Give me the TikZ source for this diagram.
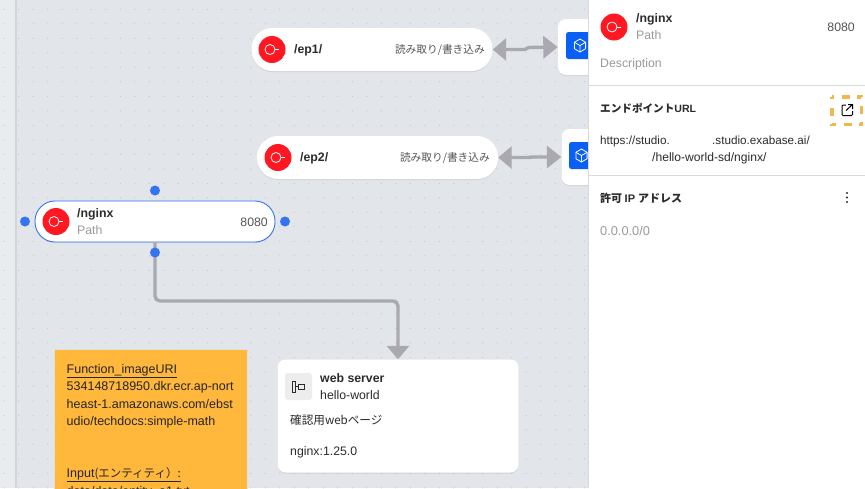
\documentclass[tikz,border=0pt]{standalone}
\usepackage{fontspec}
\setmainfont{Liberation Sans}
\newfontfamily\jp{Noto Sans CJK JP}
\usetikzlibrary{arrows.meta,shadows}
\definecolor{canvasbg}{HTML}{E2E5E9}
\definecolor{stripbg}{HTML}{E9ECEE}
\definecolor{stripline}{HTML}{D2D6DA}
\definecolor{griddot}{HTML}{B4B8BD}
\definecolor{epred}{HTML}{FF1721}
\definecolor{handleblue}{HTML}{3574F0}
\definecolor{cubeblue}{HTML}{0A5FF5}
\definecolor{flowgray}{HTML}{A9A9AF}
\definecolor{notebg}{HTML}{FFB73C}
\definecolor{dashorange}{HTML}{F1B74F}
\definecolor{inkdark}{HTML}{2B2B2B}
\definecolor{inkmid}{HTML}{555555}
\definecolor{inklight}{HTML}{9A9A9A}
\definecolor{rulegray}{HTML}{D9D9D9}
\tikzset{
  softshadow/.style={drop shadow={opacity=.18,shadow xshift=0pt,shadow yshift=-1pt}},
  pill/.style={draw=none,fill=white,rounded corners=21pt,minimum width=241pt,minimum height=43pt,inner sep=0pt,softshadow},
  cardbox/.style={fill=white,rounded corners=8pt,inner sep=0pt,softshadow},
  cubebox/.style={fill=cubeblue,rounded corners=2.5pt,inner sep=0pt,minimum width=30pt,minimum height=27pt},
  handle/.style={circle,fill=handleblue,inner sep=0pt,minimum size=10pt},
  flow/.style={draw=flowgray,line width=3.4pt},
  txt/.style={inner sep=0pt,font=\fontsize{12.3}{14}\selectfont,text=inkmid},
  txtjp/.style={txt,font=\fontsize{10.7}{14}\selectfont\jp},
  txturl/.style={txt,font=\fontsize{11.7}{14}\selectfont,text=inkdark},
  txtbold/.style={txt,font=\fontsize{12.3}{14}\selectfont\bfseries,text=inkdark},
  txtgray/.style={txt,text=inklight},
  txtdark/.style={txt,text=inkdark},
  pics/redicon/.style={code={
    \fill[epred] (0,0) circle [radius=13.5];
    \draw[white,line width=.8pt] (-2,0) circle [radius=5];
    \draw[white,line width=.8pt] (3,0) -- (7,0);
  }},
  pics/cubeicon/.style={code={
    \draw[white,line width=.8pt,line join=round] (0,-6.5) -- (5.6,-3.2) -- (5.6,3.2) -- (0,6.5) -- (-5.6,3.2) -- (-5.6,-3.2) -- cycle;
    \draw[white,line width=.8pt,line join=round] (-5.6,-3.2) -- (0,0) -- (5.6,-3.2) (0,0) -- (0,6.5);
  }},
}
\begin{document}
\begin{tikzpicture}[x=1pt,y=-1pt]
    \useasboundingbox (0,0) rectangle (865,488);
    \clip (0,0) rectangle (865,488);
    %% Canvas
    \fill[canvasbg] (0,0) rectangle (588,488);
    \fill[stripbg] (0,0) rectangle (15,488);
    \fill[stripline] (15,0) rectangle (17,488);
    \foreach \i in {0,...,40}
        \foreach \j in {0,...,33}
            \fill[griddot] (4.3+14.5*\i,9.3+14.5*\j) circle [radius=.5];
    %% Endpoints
    \node[pill] (ep1) at (372,49.5) {};
    \pic at (272,49.5) {redicon};
    \node[txtbold,anchor=base west] (ep1name) at (294,53.5) {/ep1/};
    \node[txtjp,anchor=base east] (ep1mode) at (485,53.5) {読み取り/書き込み};
    \node[pill] (ep2) at (377.5,157.5) {};
    \pic at (278,157.5) {redicon};
    \node[txtbold,anchor=base west] (ep2name) at (300,161.5) {/ep2/};
    \node[txtjp,anchor=base east] (ep2mode) at (490,161.5) {読み取り/書き込み};
    %% Storage cards
    \node[cardbox,minimum width=60pt,minimum height=56pt] (store1) at (588,47) {};
    \node[cubebox] (cube1) at (581,45.5) {};
    \pic at (580,45.5) {cubeicon};
    \node[cardbox,minimum width=60pt,minimum height=56pt] (store2) at (591.5,157) {};
    \node[cubebox] (cube2) at (584,155.5) {};
    \pic at (581.5,155.5) {cubeicon};
    %% Web server card
    \node[cardbox,minimum width=241pt,minimum height=113pt] (web) at (398,416) {};
    \node[fill=black!7,rounded corners=3pt,inner sep=0pt,minimum size=27pt] (webicon) at (298.5,386.5) {};
    \draw[inkdark,line width=.8pt] (295,381) -- (292,381) -- (292,392) -- (295,392) -- cycle
        (295,386.5) -- (298,386.5) (298,384) rectangle (304,389);
    \node[txtbold,anchor=base west] (webname) at (320,382) {web server};
    \node[txtdark,anchor=base west] (webimage) at (320,399) {hello-world};
    \node[txt,text=inkdark,font=\fontsize{11.6}{14}\selectfont\jp,anchor=base west] (webdesc) at (290,424.5) {確認用webページ};
    \node[txtdark,anchor=base west] (webver) at (290,455) {nginx:1.25.0};
    %% Selected endpoint
    \node[pill,draw=handleblue,line width=.9pt,minimum width=240pt,minimum height=41pt,rounded corners=20pt] (nginx) at (155,221.5) {};
    \pic at (56,221.5) {redicon};
    \node[txtbold,anchor=base west] (nginxname) at (77,217) {/nginx};
    \node[txtgray,anchor=base west] (nginxkind) at (77,234) {Path};
    \node[txt,anchor=base east] (nginxport) at (268,226) {8080};
    %% Connectors
    \coordinate (bend) at (280,301);
    \draw[flow,rounded corners=5pt,-{Triangle[length=13.5pt,width=22pt]}] (nginx.south) |- (bend) -| (web.north);
    \draw[flow,{Triangle[length=13.5pt,width=22pt]}-{Triangle[length=14.5pt,width=22pt]}] (ep1.east) -- ++(32,0) -- ++(4,-2) -- (store1.west);
    \draw[flow,{Triangle[length=13.5pt,width=22pt]}-{Triangle[length=14.5pt,width=22pt]}] (ep2.east) -- ++(30,0) -- ++(4,-.5) -- (store2.west);
    \node[handle] (handletop) at (155,190.5) {};
    \node[handle] (handleleft) at (25,221.5) {};
    \node[handle] (handleright) at (285,221.5) {};
    \node[handle] (handlebottom) at (155,252.5) {};
    %% Note
    \node[fill=notebg,draw=black!12,line width=.7pt,anchor=north west,inner sep=0pt,minimum width=193.5pt,minimum height=160pt] (note) at (53.5,349) {};
    \node[txtdark,anchor=north west,align=left,text=black!85,font=\fontsize{12.5}{17.4}\selectfont] (notetext) at (66.5,364) {%
        \underline{Function\_imageURI}\\
        534148718950.dkr.ecr.ap-nort\\
        heast-1.amazonaws.com/ebst\\
        udio/techdocs:simple-math\\
        \\
        \\
        \underline{Input}{\jp\fontsize{11.5}{17.4}\selectfont\underline{(エンティティ）:}}\\
        data/data/entity\_a1.txt};
    %% Side panel
    \fill[white] (588,0) rectangle (865,488);
    \draw[rulegray,line width=.7pt] (588,0) -- (588,488);
    \draw[rulegray,line width=1pt] (588,85.5) -- (865,85.5);
    \draw[rulegray,line width=1pt] (588,175.5) -- (865,175.5);
    \pic at (614,27) {redicon};
    \node[txtbold,anchor=base west] (panelname) at (636,22) {/nginx};
    \node[txtgray,anchor=base west] (panelkind) at (636,39.5) {Path};
    \node[txt,anchor=base east] (panelport) at (855,31) {8080};
    \node[txtgray,anchor=base west] (paneldesc) at (600,67.5) {Description};
    \node[txtbold,font=\fontsize{10.6}{14}\selectfont\bfseries,anchor=base west] (urltitle) at (600,112) {\jp エンドポイント\rmfamily URL};
    \node[txturl,anchor=base west] (urlone) at (600,144) {https://studio.};
    \node[txturl,anchor=base west] (urltwo) at (712,144) {.studio.exabase.ai/};
    \node[txturl,font=\fontsize{12.1}{14}\selectfont,anchor=base west] (urlthree) at (652,161) {/hello-world-sd/nginx/};
    \node[txtbold,font=\fontsize{11}{14}\selectfont\bfseries,anchor=base west] (iptitle) at (600,202) {\jp 許可 \rmfamily IP \jp アドレス};
    \node[txtgray,font=\fontsize{12.8}{14}\selectfont,anchor=base west] (ipvalue) at (600,235) {0.0.0.0/0};
    %% Icons of the panel
    \draw[dashorange,line width=3.5pt,dash pattern=on 2pt off 8.75pt on 8pt off 8.75pt on 4pt off 7.75pt on 8pt off 7.75pt on 2pt off 0pt] (831.75,96.75) rectangle (861.25,124.25);
    \draw[black,line width=1pt,rounded corners=1pt] (846,105) -- (842,105) -- (842,115.5) -- (852.5,115.5) -- (852.5,111);
    \draw[black,line width=1pt] (846,110.5) -- (852.5,104.5) (848,104.5) -- (852.5,104.5) -- (852.5,109);
    \foreach \k in {193,197.5,202}
        \fill[inkdark] (847,\k) circle [radius=1.1];
\end{tikzpicture}
\end{document}
